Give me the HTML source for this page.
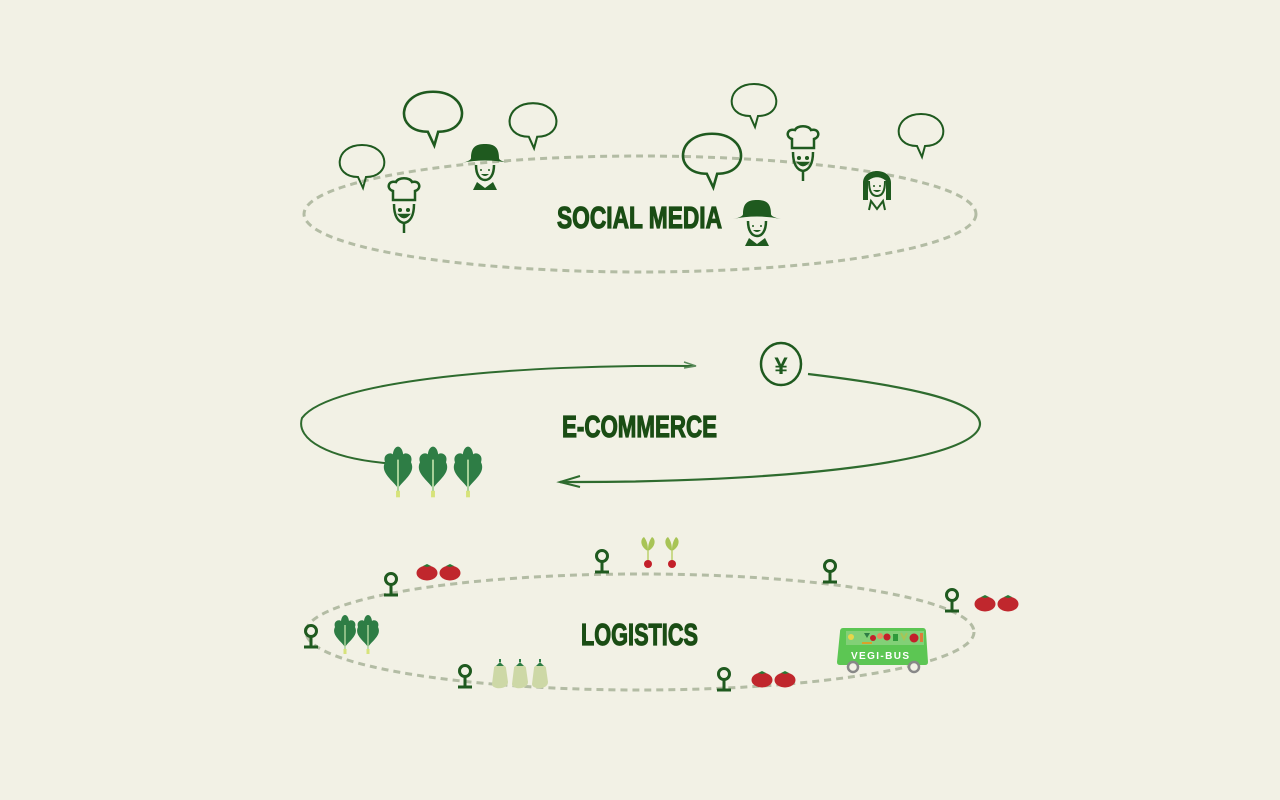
<!DOCTYPE html>
<html><head><meta charset="utf-8"><style>
html,body{margin:0;padding:0;background:#f2f1e5;}
svg{display:block}
text{font-family:"Liberation Sans",sans-serif;font-weight:bold;}
</style></head><body>
<svg width="1280" height="800" viewBox="0 0 1280 800" xmlns="http://www.w3.org/2000/svg">
<defs>
<g id="pin" fill="none" stroke="#1f5a1f" stroke-width="3">
  <circle cx="0" cy="-16" r="5.5"/><line x1="0" y1="-10.5" x2="0" y2="0"/><line x1="-7" y1="0" x2="7" y2="0"/>
</g>
<g id="tom">
  <ellipse cx="0" cy="0" rx="10.5" ry="7.5" fill="#c0272d"/><path d="M-4,-7 L0,-9 L4,-7 L0,-6z" fill="#2a7a35"/>
</g>
<g id="spin">
  <path d="M0,14 C-4,8 -14,2 -10,-6 C-12,-12 -6,-14 -4,-12 C-3,-20 3,-20 4,-12 C6,-14 12,-12 10,-6 C14,2 4,8 0,14z" fill="#2e7d45"/>
  <line x1="0" y1="-8" x2="0" y2="20" stroke="#a9d29a" stroke-width="1.5"/><line x1="0" y1="16" x2="0" y2="21" stroke="#d7e37a" stroke-width="3"/>
</g>
<g id="rad">
  <path d="M0,0 C-8,-4 -8,-12 -4,-14 C-1,-10 0,-6 0,0 C0,-6 1,-10 4,-14 C8,-12 8,-4 0,0z" fill="#a8c456"/>
  <line x1="0" y1="0" x2="0" y2="10" stroke="#c9d98a" stroke-width="2"/><circle cx="0" cy="13" r="4" fill="#c3202a"/>
</g>
<g id="egg">
  <path d="M-6,-8 C-6,-12 6,-12 6,-8 L8,6 C8,14 -8,14 -8,8 z" fill="#cdd8a6"/>
  <path d="M-4,-10 L0,-14 L4,-10 z" fill="#2e7d45"/><line x1="0" y1="-14" x2="0" y2="-17" stroke="#2e7d45" stroke-width="2"/>
</g>
<g id="bub" fill="none" stroke="#1f5a1f" stroke-width="2">
  <path d="M-4,15 C-30,15 -28,-17 0,-17 C28,-17 30,15 4,15 L1,26 z"/>
</g>
<g id="chef" fill="none" stroke="#1f5a1f" stroke-width="2.5">
  <path d="M-11,-14 L-11,-23 C-18,-25 -16,-34 -8,-32 C-6,-37 6,-37 8,-32 C16,-34 18,-25 11,-23 L11,-14 z"/>
  <path d="M-10,-10 C-10,2 -6,8 0,9 C6,8 10,2 10,-10"/>
  <line x1="0" y1="9" x2="0" y2="19"/>
  <circle cx="-4" cy="-4" r="0.8" fill="#1f5a1f"/><circle cx="4" cy="-4" r="0.8" fill="#1f5a1f"/>
  <path d="M-4,1 Q0,5 4,1z" fill="#1f5a1f"/>
</g>
<g id="farm">
  <path d="M-24,-9 Q0,-14 24,-9 Q14,-11 14,-14 C14,-26 8,-28 0,-28 C-8,-28 -14,-26 -14,-14 Q-14,-11 -24,-9 z" fill="#1f5a1f"/>
  <path d="M-9,-7 C-9,3 -5,8 0,8 C5,8 9,3 9,-7" fill="none" stroke="#1f5a1f" stroke-width="2.5"/>
  <circle cx="-4" cy="-2" r="1" fill="#1f5a1f"/><circle cx="4" cy="-2" r="1" fill="#1f5a1f"/>
  <path d="M-4,2 Q0,6 4,2z" fill="#1f5a1f"/>
  <path d="M-12,18 L-8,10 L0,16 L8,10 L12,18z" fill="#1f5a1f"/>
</g>
</defs>

<!-- SOCIAL MEDIA -->
<ellipse cx="640" cy="214" rx="336" ry="58" fill="none" stroke="#b3bca4" stroke-width="3" stroke-dasharray="7,5"/>
<use href="#bub" transform="translate(362 162) scale(1.0 1.0)"/>
<use href="#bub" transform="translate(433 113) scale(1.3 1.25)"/>
<use href="#bub" transform="translate(533 121) scale(1.05 1.05)"/>
<use href="#bub" transform="translate(754 101) scale(1.0 1.0)"/>
<use href="#bub" transform="translate(712 155) scale(1.3 1.25)"/>
<use href="#bub" transform="translate(921 131) scale(1.0 1.0)"/>
<use href="#chef" x="404" y="214"/>
<use href="#farm" x="485" y="172"/>
<use href="#farm" x="757" y="228"/>
<use href="#chef" x="803" y="162"/>
<g transform="translate(877 187)">
  <path d="M-14,13 L-14,-4 C-14,-20 14,-20 14,-4 L14,13 L9,13 L9,-6 C4,-11 -4,-11 -9,-6 L-9,13z" fill="#1f5a1f"/>
  <path d="M-8,-6 C-8,6 -4,9 0,9 C4,9 8,6 8,-6" fill="none" stroke="#1f5a1f" stroke-width="2"/>
  <circle cx="-3" cy="-1" r="1" fill="#1f5a1f"/><circle cx="3" cy="-1" r="1" fill="#1f5a1f"/>
  <path d="M-4,3 Q0,7 4,3z" fill="#1f5a1f"/>
  <path d="M-8,23 L-6,14 L0,22 L6,14 L8,23" fill="none" stroke="#1f5a1f" stroke-width="2"/>
</g>
<text x="557" y="228" font-size="31" fill="#1a4d14" stroke="#1a4d14" stroke-width="1.2" textLength="165" lengthAdjust="spacingAndGlyphs">SOCIAL MEDIA</text>

<!-- E-COMMERCE -->
<path d="M694,366 C520,364 330,380 302,418 C295,440 330,458 385,463" fill="none" stroke="#2e6b2e" stroke-width="2"/>
<path d="M684,362 L696,366 L684,368" fill="none" stroke="#5a8a5a" stroke-width="1.5"/>
<path d="M808,374 C900,385 980,400 980,424 C978,462 780,483 560,482" fill="none" stroke="#2e6b2e" stroke-width="2.2"/>
<path d="M580,476 L560,482 L580,487" fill="none" stroke="#2e6b2e" stroke-width="2"/>
<ellipse cx="781" cy="364" rx="20" ry="21" fill="none" stroke="#1f5a1f" stroke-width="2.5"/>
<text x="781" y="374" font-size="24" fill="#1f5a1f" text-anchor="middle">¥</text>
<use href="#spin" transform="translate(398 470) scale(1.3)"/>
<use href="#spin" transform="translate(433 470) scale(1.3)"/>
<use href="#spin" transform="translate(468 470) scale(1.3)"/>
<text x="562" y="437" font-size="31" fill="#1a4d14" stroke="#1a4d14" stroke-width="1.2" textLength="155" lengthAdjust="spacingAndGlyphs">E-COMMERCE</text>

<!-- LOGISTICS -->
<ellipse cx="640" cy="632" rx="334" ry="58" fill="none" stroke="#b3bca4" stroke-width="3" stroke-dasharray="7,5"/>
<use href="#pin" x="391" y="595"/>
<use href="#pin" x="602" y="572"/>
<use href="#pin" x="830" y="582"/>
<use href="#pin" x="952" y="611"/>
<use href="#pin" x="311" y="647"/>
<use href="#pin" x="465" y="687"/>
<use href="#pin" x="724" y="690"/>
<use href="#tom" x="427" y="573"/><use href="#tom" x="450" y="573"/>
<use href="#tom" x="985" y="604"/><use href="#tom" x="1008" y="604"/>
<use href="#tom" x="762" y="680"/><use href="#tom" x="785" y="680"/>
<use href="#rad" x="648" y="551"/><use href="#rad" x="672" y="551"/>
<use href="#spin" x="345" y="633"/><use href="#spin" x="368" y="633"/>
<use href="#egg" x="500" y="676"/><use href="#egg" x="520" y="676"/><use href="#egg" x="540" y="676"/>
<text x="581" y="645" font-size="31" fill="#1a4d14" stroke="#1a4d14" stroke-width="1.2" textLength="117" lengthAdjust="spacingAndGlyphs">LOGISTICS</text>

<!-- bus -->
<g>
  <path d="M843,628 L923,628 Q926,628 926,632 L928,662 Q928,665 925,665 L840,665 Q837,665 837,662 L840,632 Q840,628 843,628z" fill="#5cc653"/>
  <rect x="846" y="631" width="78" height="14" fill="#f2f1e5" opacity="0.25"/>
  <circle cx="851" cy="637" r="3" fill="#e6d64a"/><path d="M864,633 l3,5 l3,-5z" fill="#2e7d45"/>
  <circle cx="873" cy="638" r="3" fill="#c3202a"/><circle cx="880" cy="636" r="3" fill="#e88a5a"/>
  <circle cx="887" cy="637" r="3.5" fill="#c3202a"/><rect x="893" y="634" width="5" height="7" fill="#2e9a3a"/>
  <path d="M901,633 l3,6 l3,-6" stroke="#a8c456" fill="none" stroke-width="2"/>
  <circle cx="914" cy="638" r="4.5" fill="#c3202a"/><rect x="920" y="633" width="3" height="9" fill="#e07a3a"/>
  <rect x="862" y="642" width="10" height="2" fill="#d8a22a"/>
  <text x="880" y="659" font-size="10" fill="#ffffff" text-anchor="middle" textLength="58" lengthAdjust="spacing" font-weight="normal">VEGI-BUS</text>
  <circle cx="853" cy="667" r="5" fill="#f2f1e5" stroke="#888" stroke-width="2.5"/>
  <circle cx="914" cy="667" r="5" fill="#f2f1e5" stroke="#888" stroke-width="2.5"/>
</g>
</svg>
</body></html>
